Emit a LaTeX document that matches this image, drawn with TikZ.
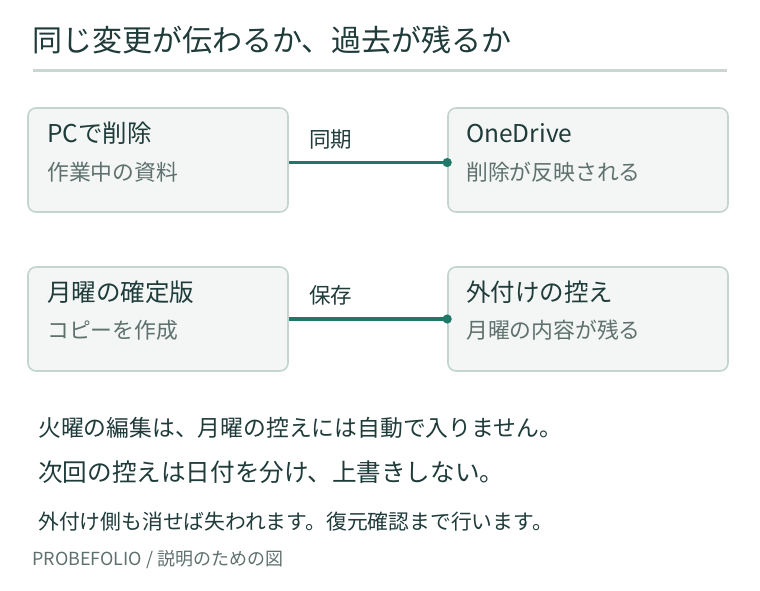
\documentclass[tikz,border=0pt]{standalone}
\usepackage{fontspec}
\setmainfont{Noto Sans CJK JP}
\usepackage{xcolor}
\usetikzlibrary{positioning, arrows.meta, calc}

\definecolor{inkdark}{HTML}{1F3B3A}
\definecolor{inkgray}{HTML}{5F716E}
\definecolor{rulegray}{HTML}{C9D6D1}
\definecolor{boxfill}{HTML}{F3F6F4}
\definecolor{boxline}{HTML}{C3D5CD}
\definecolor{linkteal}{HTML}{1F7868}

\tikzset{
    panel/.style={draw=boxline, line width=1.6pt, fill=boxfill, rounded corners=8pt,
        minimum width=260pt, minimum height=104pt, inner sep=0pt},
    boxtitle/.style={anchor=west, inner sep=0pt, text=inkdark, font=\fontsize{24.5}{29}\selectfont},
    boxsub/.style={anchor=west, inner sep=0pt, text=inkgray, font=\fontsize{21.8}{26}\selectfont},
    linklabel/.style={anchor=west, inner sep=0pt, text=inkdark, font=\fontsize{21.5}{26}\selectfont},
    link/.style={draw=linkteal, line width=3.2pt},
    note/.style={anchor=west, inner sep=0pt, text=inkdark}
}

\begin{document}
\begin{tikzpicture}[x=1pt, y=-1pt]
        \useasboundingbox[fill=white] (0,0) rectangle (760,590);

        % Heading
        \node[anchor=west, inner sep=0pt, text=inkdark, font=\fontsize{30}{35}\selectfont] (head) at (32,40) {同じ変更が伝わるか、過去が残るか};
        \draw[rulegray, line width=3pt] (33,70) -- (727,70);

        % Row 1: sync
        \node[panel] (pc) at (158,160) {};
        \node[boxtitle] (pcT) at (47,133) {PCで削除};
        \node[boxsub] (pcS) at (47,172) {作業中の資料};

        \node[panel, minimum width=280pt] (od) at (588,160) {};
        \node[boxtitle] (odT) at (466,133) {OneDrive};
        \node[boxsub] (odS) at (466,172) {削除が反映される};

        \draw[link] ([yshift=-2.5pt]pc.east) -- ([yshift=-2.5pt]od.west);
        \fill[linkteal] ([yshift=-2.5pt]od.west) circle (4.6);
        \node[linklabel] (sync) at (309,139) {同期};

        % Row 2: backup
        \node[panel] (mon) at (158,319) {};
        \node[boxtitle] (monT) at (47,292) {月曜の確定版};
        \node[boxsub] (monS) at (47,330) {コピーを作成};

        \node[panel, minimum width=280pt] (ext) at (588,319) {};
        \node[boxtitle] (extT) at (466,292) {外付けの控え};
        \node[boxsub] (extS) at (466,330) {月曜の内容が残る};

        \draw[link] (mon.east) -- (ext.west);
        \fill[linkteal] (ext.west) circle (4.6);
        \node[linklabel] (save) at (309,295) {保存};

        % Notes
        \node[note, font=\fontsize{22.8}{27}\selectfont] (n1) at (38,428) {火曜の編集は、月曜の控えには自動で入りません。};
        \node[note, font=\fontsize{24.6}{29}\selectfont] (n2) at (38,472) {次回の控えは日付を分け、上書きしない。};
        \node[note, font=\fontsize{20.8}{25}\selectfont] (n3) at (38,522) {外付け側も消せば失われます。復元確認まで行います。};
        \node[anchor=west, inner sep=0pt, text=inkgray, font=\fontsize{18}{22}\selectfont] (foot) at (32,560) {PROBEFOLIO / 説明のための図};

    \end{tikzpicture}
\end{document}
